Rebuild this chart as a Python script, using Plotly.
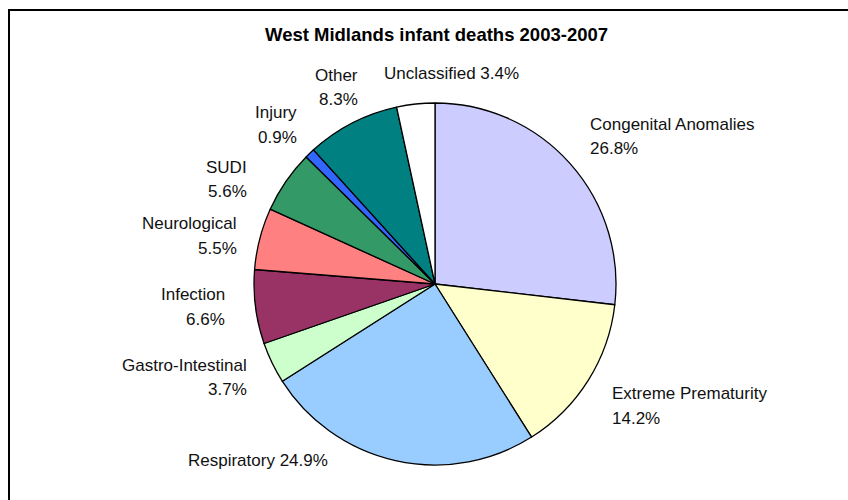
import plotly.graph_objects as go

# ---- data ----
categories = ["Congenital Anomalies", "Extreme Prematurity", "Respiratory",
              "Gastro-Intestinal", "Infection", "Neurological", "SUDI",
              "Injury", "Other", "Unclassified"]
percentages = [26.8, 14.2, 24.9, 3.7, 6.6, 5.5, 5.6, 0.9, 8.3, 3.4]
colors = ["#CCCCFF", "#FFFFCC", "#99CCFF", "#CCFFCC", "#993366",
          "#FF8080", "#339966", "#3366FF", "#008080", "#FFFFFF"]
title_text = "West Midlands infant deaths 2003-2007"

W, H = 848, 500
FONT = "Arial, Liberation Sans, sans-serif"

# label layout (pixel anchors): x, y_line1, y_line2 (None => single line), xanchor
label_layout = {
    "Congenital Anomalies": (588, 124.5, 148, "left"),
    "Extreme Prematurity": (610, 393.7, 418.3, "left"),
    "Respiratory": (257.5, 460, None, "center"),
    "Gastro-Intestinal": (249.3, 365, 389.7, "right"),
    "Infection": (226.7, 294, 319.7, "right"),
    "Neurological": (238.7, 223.7, 248, "right"),
    "SUDI": (249.3, 167.3, 191.3, "right"),
    "Injury": (298.7, 112.7, 137, "right"),
    "Other": (360, 75, 99.7, "right"),
    "Unclassified": (381.7, 73, None, "left"),
}

cx, cy, r = 435, 284, 181

fig = go.Figure(go.Pie(
    labels=categories,
    values=percentages,
    sort=False,
    direction="clockwise",
    rotation=0,
    marker=dict(colors=colors, line=dict(color="#000000", width=1.3)),
    textinfo="none",
    showlegend=False,
    domain=dict(x=[(cx - r) / W, (cx + r) / W], y=[1 - (cy + r) / H, 1 - (cy - r) / H]),
))

def px_x(x):
    return x / W

def px_y(y):
    return 1 - y / H

label_font = dict(family=FONT, size=17, color="#111111")
annotations = []
for name, val in zip(categories, percentages):
    x, y1, y2, xa = label_layout[name]
    pct = f"{val:.1f}%"
    if y2 is None:
        annotations.append(dict(text=f"{name} {pct}", x=px_x(x), y=px_y(y1), xref="paper", yref="paper",
                                xanchor=xa, yanchor="middle", showarrow=False, font=label_font))
    else:
        annotations.append(dict(text=name, x=px_x(x), y=px_y(y1), xref="paper", yref="paper",
                                xanchor=xa, yanchor="middle", showarrow=False, font=label_font))
        annotations.append(dict(text=pct, x=px_x(x), y=px_y(y2), xref="paper", yref="paper",
                                xanchor=xa, yanchor="middle", showarrow=False, font=label_font))

annotations.append(dict(text=f"<b>{title_text}</b>", x=px_x(436), y=px_y(34.5), xref="paper", yref="paper",
                        xanchor="center", yanchor="middle", showarrow=False,
                        font=dict(family=FONT, size=18.5, color="#000000")))

fig.update_layout(
    width=W, height=H,
    margin=dict(l=0, r=0, t=0, b=0),
    paper_bgcolor="#FFFFFF",
    plot_bgcolor="#FFFFFF",
    annotations=annotations,
    shapes=[dict(type="rect", xref="paper", yref="paper",
                 x0=px_x(9), x1=px_x(870), y0=px_y(520), y1=px_y(10),
                 line=dict(color="#000000", width=2), fillcolor="rgba(0,0,0,0)")],
)

fig.write_html("out.html", config={"displayModeBar": False},
               post_script="document.body.style.margin='0';document.body.style.overflow='hidden';")
